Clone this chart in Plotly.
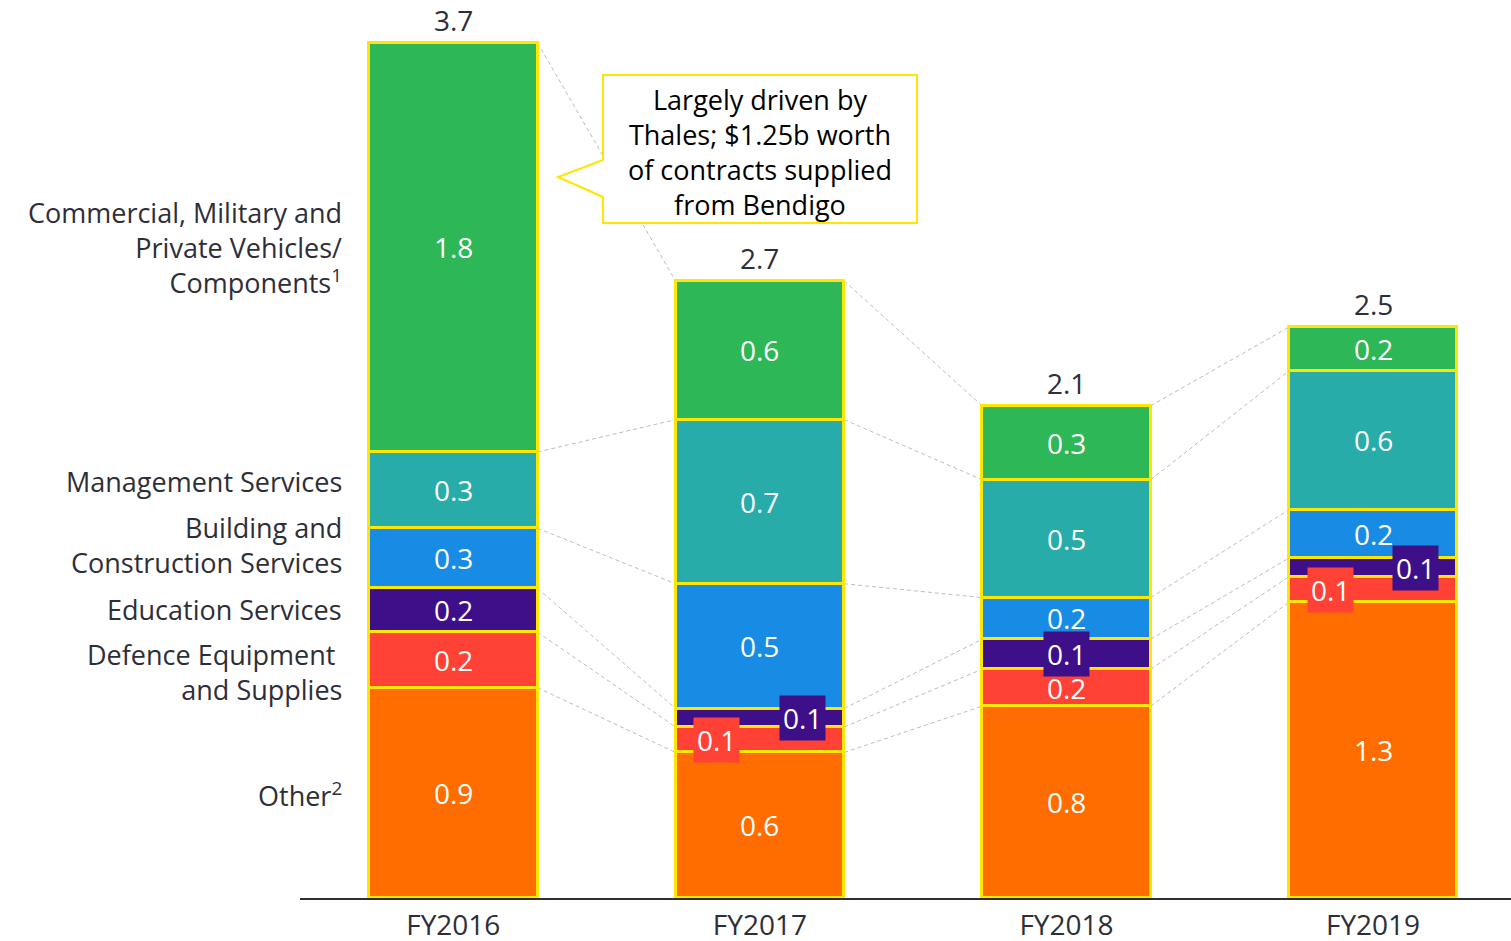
import plotly.graph_objects as go

# Revenue by industry segment ($b), stacked bottom to top
years = ["FY2016", "FY2017", "FY2018", "FY2019"]

other = [0.91, 0.63, 0.83, 1.28]
defence = [0.24, 0.11, 0.16, 0.11]
education = [0.19, 0.08, 0.13, 0.08]
building = [0.26, 0.54, 0.18, 0.21]
management = [0.33, 0.71, 0.51, 0.60]
vehicles = [1.77, 0.60, 0.32, 0.19]

segment_names = [
    "Other<sup>2</sup>",
    "Defence Equipment&nbsp;<br>and Supplies",
    "Education Services",
    "Building and<br>Construction Services",
    "Management Services",
    "Commercial, Military and<br>Private Vehicles/<br>Components<sup>1</sup>",
]
segment_values = [other, defence, education, building, management, vehicles]
segment_colors = ["#FF6D00", "#FF4136", "#3D108A", "#188CE5", "#27ACAA", "#2DB757"]

# y position (px from top) of the side labels
side_label_y = [794, 672, 609, 545, 481, 247]

# small segments whose value label sits in a coloured box, shifted sideways
boxed_labels = {
    (1, 1): -0.14, (2, 1): 0.14,
    (2, 2): 0.0,
    (1, 3): -0.14, (2, 3): 0.14,
}

TEXT = "#2E2E38"
YELLOW = "#FFE600"
FONT = "Open Sans"
NUM_SIZE = 28
LABEL_SIZE = 27
BAR_W = 0.55

L, R, T, B = 300, 0, 0, 43
W, H = 1511, 941
PLOT_W, PLOT_H = W - L - R, H - T - B
X_RANGE = [-0.5, 3.45]
Y_RANGE = [0, 3.886]

fig = go.Figure()
xs = list(range(len(years)))

for name, vals, col in zip(segment_names, segment_values, segment_colors):
    fig.add_trace(go.Bar(
        x=xs, y=vals, width=BAR_W, name=name,
        marker=dict(color=col, line=dict(color=YELLOW, width=3)),
        hoverinfo="skip",
    ))

annotations = []
shapes = []


def px(xp):
    return (xp - L) / PLOT_W


def py_(yp):
    return (H - B - yp) / PLOT_H


# cumulative tops of each segment
tops = []
running = [0.0] * len(years)
for s, vals in enumerate(segment_values):
    bases = running[:]
    running = [b + v for b, v in zip(running, vals)]
    tops.append(running[:])
    for i, v in enumerate(vals):
        mid = bases[i] + v / 2
        key = (s, i)
        ann = dict(
            x=i, y=mid, xref="x", yref="y", xanchor="center", yanchor="middle",
            text=f"{v:.1f}", showarrow=False,
            font=dict(family=FONT, size=NUM_SIZE, color="white"),
        )
        if key in boxed_labels:
            ann.update(x=i + boxed_labels[key], bgcolor=segment_colors[s], borderpad=3)
        annotations.append(ann)

# totals above bars
for i, t in enumerate(running):
    annotations.append(dict(
        x=i, y=t, xref="x", yref="y", text=f"{t:.1f}", showarrow=False,
        xanchor="center", yanchor="middle", yshift=23,
        font=dict(family=FONT, size=NUM_SIZE, color=TEXT),
    ))

# dashed connectors between matching segment tops of neighbouring bars
for seg_tops in tops:
    for i in range(len(years) - 1):
        shapes.append(dict(
            type="line", xref="x", yref="y",
            x0=i + BAR_W / 2, y0=seg_tops[i],
            x1=i + 1 - BAR_W / 2, y1=seg_tops[i + 1],
            line=dict(color="#BDBDBD", width=1, dash="4px,3px"),
            layer="below",
        ))

# side labels naming each segment
for name, yp in zip(segment_names, side_label_y):
    annotations.append(dict(
        x=px(344), y=py_(yp), xref="paper", yref="paper", text=name, showarrow=False,
        align="right", xanchor="right", yanchor="middle",
        font=dict(family=FONT, size=LABEL_SIZE, color=TEXT),
    ))

# callout box with pointer
callout = [(603, 75), (917, 75), (917, 223), (603, 223), (603, 197), (558, 177), (603, 160)]
path = "M " + " L ".join(f"{px(cx)},{py_(cy)}" for cx, cy in callout) + " Z"
shapes.append(dict(type="path", xref="paper", yref="paper", path=path,
                   line=dict(color=YELLOW, width=2), fillcolor="white", layer="above"))
annotations.append(dict(
    x=px(760), y=py_(152), xref="paper", yref="paper", showarrow=False,
    xanchor="center", yanchor="middle",
    text="Largely driven by<br>Thales; $1.25b worth<br>of contracts supplied<br>from Bendigo",
    align="center", font=dict(family=FONT, size=LABEL_SIZE, color="black"),
))

fig.update_layout(
    width=W, height=H, barmode="stack", showlegend=False,
    margin=dict(l=L, r=R, t=T, b=B, pad=0),
    plot_bgcolor="white", paper_bgcolor="white",
    font=dict(family=FONT, color=TEXT),
    annotations=annotations, shapes=shapes,
    bargap=0,
)
fig.update_xaxes(range=X_RANGE, tickvals=xs, ticktext=years, showgrid=False,
                 zeroline=False, showline=True, linecolor=TEXT, linewidth=1.5,
                 ticks="", ticklabelstandoff=2, automargin=False,
                 tickfont=dict(family=FONT, size=NUM_SIZE, color=TEXT))
fig.update_yaxes(range=Y_RANGE, visible=False, automargin=False)

fig.write_html("out.html")
